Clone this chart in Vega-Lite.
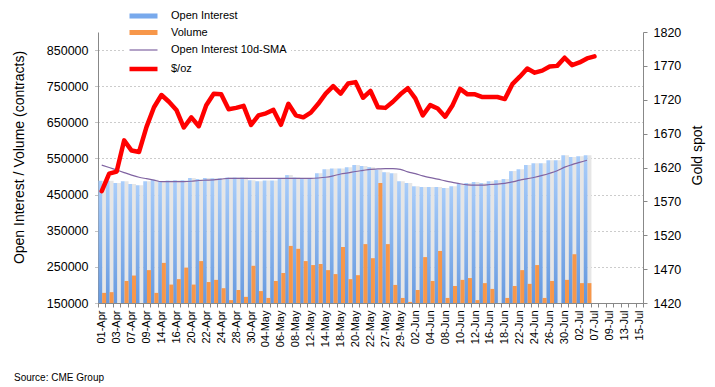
{
  "$schema": "https://vega.github.io/schema/vega-lite/v6.json",
  "autosize": {"type": "none"},
  "width": 545,
  "height": 271,
  "padding": {"left": 98, "top": 32, "right": 72, "bottom": 84},
  "background": "white",
  "config": {
    "view": {"stroke": null},
    "font": "Liberation Sans",
    "axis": {"labelFont": "Liberation Sans", "titleFont": "Liberation Sans", "labelColor": "#000", "titleColor": "#000", "titleFontWeight": "normal", "domainColor": "#888", "tickColor": "#888", "tickSize": 4},
    "legend": {"orient": "none", "legendX": 26, "legendY": -27, "fillColor": "white", "padding": 4, "labelFont": "Liberation Sans", "labelFontSize": 11, "labelColor": "#000", "symbolSize": 196, "symbolOffset": 6, "labelOffset": 18, "rowPadding": 4.5, "symbolOpacity": 1}
  },
  "title": {"text": "Source: CME Group", "orient": "bottom", "anchor": "start", "frame": "group", "fontSize": 10, "fontWeight": "normal", "font": "Liberation Sans", "color": "#000", "dx": -84, "offset": 26},
  "datasets": {
    "legend": [
      {"series": "Open Interest"},
      {"series": "Volume"},
      {"series": "Open Interest 10d-SMA"},
      {"series": "$/oz"}
    ]
  },
  "data": {"values": [
    {"date": "01-Apr", "oi": 488000, "vol": 178000, "sma": 531600, "gold": 1585},
    {"date": "02-Apr", "oi": 488000, "vol": 180000, "sma": 525000, "gold": 1611},
    {"date": "03-Apr", "oi": 482000, "vol": 150000, "sma": 518000, "gold": 1614},
    {"date": "06-Apr", "oi": 487000, "vol": 211000, "sma": 511000, "gold": 1660},
    {"date": "07-Apr", "oi": 479000, "vol": 226000, "sma": 504000, "gold": 1645},
    {"date": "08-Apr", "oi": 476000, "vol": 150000, "sma": 498000, "gold": 1643},
    {"date": "09-Apr", "oi": 487000, "vol": 241000, "sma": 494000, "gold": 1680},
    {"date": "13-Apr", "oi": 491000, "vol": 178000, "sma": 490000, "gold": 1709},
    {"date": "14-Apr", "oi": 486000, "vol": 261000, "sma": 486000, "gold": 1727},
    {"date": "15-Apr", "oi": 489000, "vol": 201000, "sma": 486000, "gold": 1717},
    {"date": "16-Apr", "oi": 490000, "vol": 216000, "sma": 486000, "gold": 1705},
    {"date": "17-Apr", "oi": 490000, "vol": 248000, "sma": 486000, "gold": 1679},
    {"date": "20-Apr", "oi": 496000, "vol": 201000, "sma": 487000, "gold": 1694},
    {"date": "21-Apr", "oi": 493000, "vol": 266000, "sma": 489000, "gold": 1681},
    {"date": "22-Apr", "oi": 496000, "vol": 208000, "sma": 490000, "gold": 1712},
    {"date": "23-Apr", "oi": 495000, "vol": 214000, "sma": 491000, "gold": 1729},
    {"date": "24-Apr", "oi": 495000, "vol": 191000, "sma": 493000, "gold": 1728},
    {"date": "27-Apr", "oi": 497000, "vol": 158000, "sma": 495000, "gold": 1706},
    {"date": "28-Apr", "oi": 497000, "vol": 186000, "sma": 495000, "gold": 1708},
    {"date": "29-Apr", "oi": 497000, "vol": 167000, "sma": 495000, "gold": 1711},
    {"date": "30-Apr", "oi": 490000, "vol": 253000, "sma": 495000, "gold": 1683},
    {"date": "01-May", "oi": 487000, "vol": 183000, "sma": 495000, "gold": 1697},
    {"date": "04-May", "oi": 489000, "vol": 164000, "sma": 495000, "gold": 1700},
    {"date": "05-May", "oi": 489000, "vol": 211000, "sma": 495000, "gold": 1705},
    {"date": "06-May", "oi": 496000, "vol": 233000, "sma": 495000, "gold": 1683},
    {"date": "07-May", "oi": 504000, "vol": 308000, "sma": 495000, "gold": 1714},
    {"date": "08-May", "oi": 497000, "vol": 300000, "sma": 495000, "gold": 1697},
    {"date": "11-May", "oi": 493000, "vol": 266000, "sma": 495000, "gold": 1694},
    {"date": "12-May", "oi": 495000, "vol": 255000, "sma": 495000, "gold": 1701},
    {"date": "13-May", "oi": 509000, "vol": 258000, "sma": 496000, "gold": 1714},
    {"date": "14-May", "oi": 520000, "vol": 241000, "sma": 498000, "gold": 1729},
    {"date": "15-May", "oi": 522000, "vol": 230000, "sma": 502000, "gold": 1740},
    {"date": "18-May", "oi": 522000, "vol": 305000, "sma": 507000, "gold": 1729},
    {"date": "19-May", "oi": 526000, "vol": 216000, "sma": 510000, "gold": 1744},
    {"date": "20-May", "oi": 532000, "vol": 227000, "sma": 514000, "gold": 1746},
    {"date": "21-May", "oi": 529000, "vol": 313000, "sma": 517000, "gold": 1723},
    {"date": "22-May", "oi": 526000, "vol": 274000, "sma": 520000, "gold": 1733},
    {"date": "26-May", "oi": 519000, "vol": 482000, "sma": 521000, "gold": 1709},
    {"date": "27-May", "oi": 512000, "vol": 313000, "sma": 522000, "gold": 1708},
    {"date": "28-May", "oi": 509000, "vol": 200000, "sma": 522000, "gold": 1717},
    {"date": "29-May", "oi": 487000, "vol": 164000, "sma": 520000, "gold": 1728},
    {"date": "01-Jun", "oi": 482000, "vol": 153000, "sma": 513000, "gold": 1737},
    {"date": "02-Jun", "oi": 473000, "vol": 186000, "sma": 508000, "gold": 1722},
    {"date": "03-Jun", "oi": 471000, "vol": 277000, "sma": 502000, "gold": 1697},
    {"date": "04-Jun", "oi": 471000, "vol": 211000, "sma": 497000, "gold": 1712},
    {"date": "05-Jun", "oi": 471000, "vol": 294000, "sma": 493000, "gold": 1707},
    {"date": "08-Jun", "oi": 468000, "vol": 164000, "sma": 488000, "gold": 1695},
    {"date": "09-Jun", "oi": 473000, "vol": 197000, "sma": 484000, "gold": 1712},
    {"date": "10-Jun", "oi": 479000, "vol": 214000, "sma": 480000, "gold": 1736},
    {"date": "11-Jun", "oi": 482000, "vol": 219000, "sma": 477000, "gold": 1728},
    {"date": "12-Jun", "oi": 485000, "vol": 158000, "sma": 476000, "gold": 1728},
    {"date": "15-Jun", "oi": 482000, "vol": 205000, "sma": 476000, "gold": 1724},
    {"date": "16-Jun", "oi": 487000, "vol": 189000, "sma": 478000, "gold": 1724},
    {"date": "17-Jun", "oi": 490000, "vol": 150000, "sma": 479000, "gold": 1724},
    {"date": "18-Jun", "oi": 493000, "vol": 164000, "sma": 481000, "gold": 1721},
    {"date": "19-Jun", "oi": 515000, "vol": 197000, "sma": 485000, "gold": 1743},
    {"date": "22-Jun", "oi": 520000, "vol": 241000, "sma": 490000, "gold": 1754},
    {"date": "23-Jun", "oi": 532000, "vol": 203000, "sma": 494000, "gold": 1766},
    {"date": "24-Jun", "oi": 537000, "vol": 255000, "sma": 498000, "gold": 1760},
    {"date": "25-Jun", "oi": 537000, "vol": 164000, "sma": 503000, "gold": 1763},
    {"date": "26-Jun", "oi": 545000, "vol": 211000, "sma": 509000, "gold": 1769},
    {"date": "29-Jun", "oi": 545000, "vol": 150000, "sma": 516000, "gold": 1770},
    {"date": "30-Jun", "oi": 559000, "vol": 214000, "sma": 526000, "gold": 1782},
    {"date": "01-Jul", "oi": 554000, "vol": 285000, "sma": 533000, "gold": 1771},
    {"date": "02-Jul", "oi": 556000, "vol": 205000, "sma": 539000, "gold": 1775},
    {"date": "06-Jul", "oi": 559000, "vol": 205000, "sma": 545000, "gold": 1781},
    {"date": "07-Jul", "oi": null, "vol": null, "sma": null, "gold": 1784}
  ]},
  "encoding": {
    "x": {
      "field": "date", "type": "nominal",
      "scale": {"paddingInner": 0, "paddingOuter": 0, "domain": ["01-Apr","02-Apr","03-Apr","06-Apr","07-Apr","08-Apr","09-Apr","13-Apr","14-Apr","15-Apr","16-Apr","17-Apr","20-Apr","21-Apr","22-Apr","23-Apr","24-Apr","27-Apr","28-Apr","29-Apr","30-Apr","01-May","04-May","05-May","06-May","07-May","08-May","11-May","12-May","13-May","14-May","15-May","18-May","19-May","20-May","21-May","22-May","26-May","27-May","28-May","29-May","01-Jun","02-Jun","03-Jun","04-Jun","05-Jun","08-Jun","09-Jun","10-Jun","11-Jun","12-Jun","15-Jun","16-Jun","17-Jun","18-Jun","19-Jun","22-Jun","23-Jun","24-Jun","25-Jun","26-Jun","29-Jun","30-Jun","01-Jul","02-Jul","06-Jul","07-Jul","08-Jul","09-Jul","10-Jul","13-Jul","14-Jul","15-Jul"]},
      "axis": {"title": null, "labelAngle": -90, "labelFontSize": 11, "labelPadding": 3, "tickBand": "extent", "labelOverlap": false, "labelExpr": "round(datum.index * 72) % 2 === 0 ? datum.label : ''", "grid": false}
    }
  },
  "layer": [
    {
      "layer": [
        {
          "mark": {"type": "bar", "clip": true, "width": {"band": 0.54}, "xOffset": 2.4, "fill": "#e6e6e6", "strokeWidth": 0},
          "encoding": {
            "y": {"field": "oi", "type": "quantitative", "scale": {"domain": [150000, 900000], "zero": false, "nice": false},
              "axis": {"title": "Open Interest / Volume (contracts)", "titleFontSize": 14, "titlePadding": 20, "titleY": 125, "labelFontSize": 12.5, "labelPadding": 6, "format": "d", "values": [150000, 250000, 350000, 450000, 550000, 650000, 750000, 850000], "grid": true, "gridDash": [1, 3], "gridColor": "#999", "tickDash": [1, 1]}}
          }
        },
        {
          "mark": {"type": "bar", "clip": true, "width": {"band": 0.5}, "xOffset": -1.4, "strokeWidth": 0,
            "fill": {"gradient": "linear", "x1": 0, "y1": 0, "x2": 0, "y2": 1, "stops": [{"offset": 0, "color": "#a9cdfa"}, {"offset": 1, "color": "#4a83d3"}]}},
          "encoding": {
            "y": {"field": "oi", "type": "quantitative",
              "axis": {"title": "Open Interest / Volume (contracts)", "titleFontSize": 14, "titlePadding": 20, "titleY": 125, "labelFontSize": 12.5, "labelPadding": 6, "format": "d", "values": [150000, 250000, 350000, 450000, 550000, 650000, 750000, 850000], "grid": true, "gridDash": [1, 3], "gridColor": "#999", "tickDash": [1, 1]}}
          }
        },
        {
          "mark": {"type": "bar", "clip": true, "width": {"band": 0.54}, "xOffset": 2.4, "fill": "#f7974a", "strokeWidth": 0},
          "encoding": {
            "y": {"field": "vol", "type": "quantitative",
              "axis": {"title": "Open Interest / Volume (contracts)", "titleFontSize": 14, "titlePadding": 20, "titleY": 125, "labelFontSize": 12.5, "labelPadding": 6, "format": "d", "values": [150000, 250000, 350000, 450000, 550000, 650000, 750000, 850000], "grid": true, "gridDash": [1, 3], "gridColor": "#999", "tickDash": [1, 1]}}
          }
        },
        {
          "mark": {"type": "line", "interpolate": "monotone", "strokeWidth": 1.2, "stroke": "#8064a2"},
          "encoding": {
            "y": {"field": "sma", "type": "quantitative",
              "axis": {"title": "Open Interest / Volume (contracts)", "titleFontSize": 14, "titlePadding": 20, "titleY": 125, "labelFontSize": 12.5, "labelPadding": 6, "format": "d", "values": [150000, 250000, 350000, 450000, 550000, 650000, 750000, 850000], "grid": true, "gridDash": [1, 3], "gridColor": "#999", "tickDash": [1, 1]}}
          }
        }
      ]
    },
    {
      "mark": {"type": "line", "strokeWidth": 4.5, "strokeCap": "round", "strokeJoin": "round", "stroke": "#ff0000"},
      "encoding": {
        "y": {"field": "gold", "type": "quantitative", "scale": {"domain": [1420, 1820], "zero": false, "nice": false},
          "axis": {"orient": "right", "title": "Gold spot", "titleFontSize": 14, "titleAngle": -90, "titleBaseline": "top", "titlePadding": 10, "titleY": 123, "labelFontSize": 12.5, "labelPadding": 6, "format": "d", "values": [1420, 1470, 1520, 1570, 1620, 1670, 1720, 1770, 1820], "grid": false}}
      }
    },
    {
      "data": {"name": "legend"},
      "mark": {"type": "point", "opacity": 0},
      "encoding": {
        "x": {"value": 0},
        "fill": {"field": "series", "type": "nominal", "legend": {"title": null},
          "scale": {"domain": ["Open Interest", "Volume", "Open Interest 10d-SMA", "$/oz"], "range": ["#78a9ec", "#f7974a", "transparent", "transparent"]}},
        "stroke": {"field": "series", "type": "nominal", "legend": {"title": null},
          "scale": {"domain": ["Open Interest", "Volume", "Open Interest 10d-SMA", "$/oz"], "range": ["transparent", "transparent", "#8064a2", "#ff0000"]}},
        "shape": {"field": "series", "type": "nominal", "legend": {"title": null},
          "scale": {"domain": ["Open Interest", "Volume", "Open Interest 10d-SMA", "$/oz"], "range": ["M-2,-0.36H2V0.36H-2Z", "M-2,-0.36H2V0.36H-2Z", "M-2,0H2", "M-2,0H2"]}},
        "strokeWidth": {"field": "series", "type": "ordinal", "legend": {"title": null},
          "scale": {"type": "ordinal", "domain": ["Open Interest", "Volume", "Open Interest 10d-SMA", "$/oz"], "range": [0, 0, 1.2, 4.5]}}
      }
    }
  ],
  "resolve": {"scale": {"y": "independent"}}
}
